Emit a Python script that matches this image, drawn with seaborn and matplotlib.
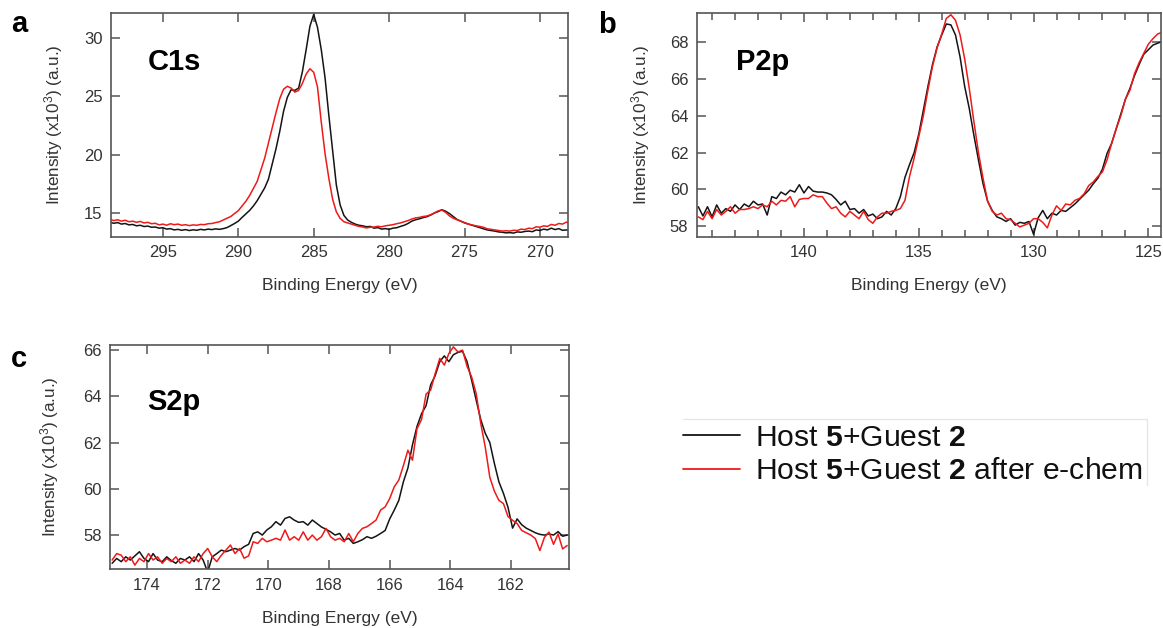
import numpy as np
import pandas as pd
import seaborn as sns
import matplotlib.pyplot as plt
from matplotlib.ticker import MultipleLocator
from matplotlib.lines import Line2D

# C1s spectra, 0.25 eV steps starting at 298.5 eV going down
c1s_start, c1s_step = 298.5, 0.25
c1s_host = [14.20, 14.12, 14.18, 14.05, 14.10, 13.98, 14.02, 13.90, 13.95, 13.84,
            13.88, 13.78, 13.80, 13.70, 13.74, 13.62, 13.66, 13.55, 13.60, 13.52,
            13.58, 13.50, 13.56, 13.52, 13.60, 13.55, 13.62, 13.58, 13.64, 13.60,
            13.66, 13.75, 13.92, 14.10, 14.30, 14.62, 14.92, 15.22, 15.60, 16.05,
            16.60, 17.15, 17.90, 19.20, 20.50, 22.00, 23.70, 24.90, 25.55, 25.50,
            25.70, 27.10, 29.00, 31.00, 32.00, 30.90, 29.00, 26.60, 23.40, 20.40,
            17.40, 15.70, 14.80, 14.40, 14.20, 14.05, 13.95, 13.90, 13.82, 13.85,
            13.70, 13.75, 13.62, 13.66, 13.60, 13.70, 13.74, 13.85, 13.95, 14.10,
            14.30, 14.42, 14.50, 14.60, 14.68, 14.82, 15.00, 15.12, 15.28, 15.15,
            14.95, 14.70, 14.45, 14.30, 14.15, 14.05, 13.95, 13.85, 13.75, 13.65,
            13.55, 13.50, 13.45, 13.38, 13.35, 13.30, 13.32, 13.28, 13.38, 13.35,
            13.42, 13.45, 13.40, 13.55, 13.50, 13.62, 13.55, 13.70, 13.58, 13.66,
            13.52, 13.55, 13.50]
c1s_echem = [14.45, 14.35, 14.42, 14.30, 14.38, 14.25, 14.30, 14.20, 14.28, 14.15,
             14.20, 14.08, 14.12, 13.98, 14.05, 13.95, 14.08, 14.00, 14.05, 13.95,
             14.00, 13.92, 13.98, 13.95, 14.02, 14.00, 14.08, 14.10, 14.18, 14.25,
             14.40, 14.55, 14.70, 14.95, 15.20, 15.60, 16.00, 16.50, 17.10, 17.70,
             18.70, 19.70, 21.00, 22.30, 23.60, 24.80, 25.60, 25.85, 25.70, 25.35,
             25.50, 26.10, 26.90, 27.35, 27.05, 25.80, 22.80, 20.10, 18.00, 16.20,
             15.10, 14.55, 14.25, 14.15, 14.05, 13.95, 13.85, 13.80, 13.72, 13.78,
             13.80, 13.86, 13.82, 13.90, 13.95, 14.00, 14.08, 14.15, 14.25, 14.35,
             14.48, 14.58, 14.62, 14.70, 14.74, 14.85, 15.00, 15.18, 15.25, 15.05,
             14.75, 14.55, 14.42, 14.30, 14.18, 14.05, 13.98, 13.90, 13.85, 13.78,
             13.65, 13.60, 13.55, 13.50, 13.45, 13.48, 13.45, 13.52, 13.50, 13.62,
             13.58, 13.70, 13.66, 13.82, 13.78, 13.90, 13.85, 14.02, 13.95, 14.10,
             14.05, 14.22, 14.10]

# P2p spectra, 0.2 eV steps starting at 144.6 eV
p2p_start, p2p_step = 144.6, 0.2
p2p_host = [59.05, 58.55, 59.05, 58.50, 59.15, 58.70, 58.95, 58.80, 59.15, 58.90,
            59.20, 59.05, 59.35, 59.15, 59.20, 58.60, 59.60, 59.50, 59.85, 59.70,
            59.95, 59.85, 60.25, 59.80, 60.15, 59.90, 59.85, 59.85, 59.80, 59.70,
            59.45, 59.15, 59.35, 58.90, 58.95, 58.70, 58.90, 58.55, 58.65, 58.40,
            58.50, 58.80, 58.60, 58.95, 59.60, 60.65, 61.35, 62.00, 63.00, 64.30,
            65.60, 66.80, 67.75, 68.40, 69.00, 68.95, 68.40, 67.20, 65.60, 64.40,
            62.95, 61.60, 60.30, 59.35, 58.85, 58.50, 58.40, 58.25, 58.40, 58.05,
            58.20, 58.15, 58.25, 57.55, 58.45, 58.85, 58.40, 58.70, 58.60, 58.85,
            58.80, 59.00, 59.20, 59.45, 59.70, 59.95, 60.30, 60.60, 61.10, 61.95,
            62.50, 63.30, 64.10, 64.90, 65.50, 66.20, 66.80, 67.35, 67.60, 67.85,
            67.95, 68.05]
p2p_echem = [58.50, 58.35, 58.80, 58.40, 58.90, 58.60, 58.80, 59.05, 58.70, 58.90,
             58.90, 58.95, 59.05, 58.95, 59.15, 59.05, 59.35, 59.15, 59.40, 59.35,
             59.60, 59.05, 59.45, 59.50, 59.50, 59.70, 59.60, 59.60, 59.25, 58.95,
             59.05, 58.70, 58.50, 58.80, 58.60, 58.40, 58.80, 58.35, 58.15, 58.50,
             58.70, 58.70, 58.80, 58.85, 58.95, 59.40, 60.70, 61.70, 62.85, 64.00,
             65.40, 66.70, 67.70, 68.45, 69.30, 69.50, 69.20, 68.40, 67.10, 65.50,
             63.70, 62.00, 60.60, 59.35, 58.80, 58.60, 58.70, 58.40, 58.35, 58.15,
             57.95, 58.05, 58.15, 58.40, 58.40, 58.20, 57.90, 58.60, 59.10, 58.85,
             59.20, 59.15, 59.40, 59.50, 59.75, 60.20, 60.40, 60.70, 60.95, 61.60,
             62.50, 63.30, 64.00, 64.90, 65.40, 66.30, 66.90, 67.40, 67.90, 68.20,
             68.45, 68.55]

# S2p spectra, 0.15 eV steps starting at 175.15 eV
s2p_start, s2p_step = 175.15, 0.15
s2p_host = [56.78, 56.99, 56.85, 57.06, 56.92, 57.10, 57.28, 56.99, 56.85, 57.20,
            56.92, 56.85, 57.06, 56.90, 56.78, 56.99, 56.92, 57.06, 56.85, 57.20,
            56.92, 56.40, 57.06, 57.20, 57.35, 57.28, 57.35, 57.42, 57.35, 57.50,
            57.60, 58.07, 58.14, 58.00, 58.22, 58.36, 58.58, 58.43, 58.72, 58.79,
            58.65, 58.55, 58.58, 58.43, 58.65, 58.50, 58.35, 58.25, 58.14, 58.00,
            58.07, 57.78, 57.86, 57.64, 57.71, 57.80, 57.93, 57.86, 57.95, 58.07,
            58.20, 58.70, 59.08, 59.50, 60.30, 60.90, 61.90, 62.70, 63.25, 63.60,
            64.50, 64.90, 65.50, 65.75, 65.50, 65.80, 65.90, 65.95, 65.50, 64.70,
            63.84, 63.00, 62.40, 62.00, 61.10, 60.30, 59.80, 59.20, 58.30, 58.70,
            58.45, 58.30, 58.20, 58.10, 58.03, 58.00, 58.05, 58.00, 58.15, 57.95,
            58.00]
s2p_echem = [56.92, 57.20, 57.13, 56.85, 57.06, 56.70, 56.99, 56.85, 57.20, 56.92,
             57.06, 56.78, 56.99, 56.85, 57.06, 56.78, 56.92, 56.78, 57.06, 56.85,
             57.20, 57.42, 57.06, 56.85, 57.13, 57.35, 57.57, 57.20, 57.42, 57.00,
             57.10, 57.71, 57.64, 57.86, 57.71, 57.78, 57.86, 57.78, 58.22, 57.78,
             57.93, 57.78, 58.14, 57.78, 58.00, 57.78, 57.93, 58.29, 57.93, 57.78,
             57.86, 57.71, 58.07, 57.71, 58.07, 58.29, 58.36, 58.50, 58.65, 59.08,
             59.22, 59.58, 60.09, 60.38, 61.00, 61.67, 61.24, 62.60, 63.00, 64.10,
             64.27, 64.99, 65.64, 65.35, 65.85, 66.14, 65.92, 66.00, 65.30, 64.84,
             64.12, 62.84, 61.80, 60.50, 59.90, 59.50, 59.36, 58.80, 58.64, 58.50,
             58.20, 58.10, 58.00, 57.85, 57.33, 57.90, 58.13, 57.60, 58.05, 57.40,
             57.55]

labels = ["Host $\\mathbf{5}$+Guest $\\mathbf{2}$",
          "Host $\\mathbf{5}$+Guest $\\mathbf{2}$ after e-chem"]
panel_titles = ["C1s", "P2p", "S2p"]
panel_letters = ["a", "b", "c"]

sns.set_theme(style="ticks")
plt.rcParams["font.family"] = ["Liberation Sans", "DejaVu Sans"]
plt.rcParams["mathtext.fontset"] = "custom"
plt.rcParams["mathtext.rm"] = "Liberation Sans"
plt.rcParams["mathtext.bf"] = "Liberation Sans:bold"
plt.rcParams["mathtext.it"] = "Liberation Sans:italic"

black = "#141414"
red = "#ee1a1a"
grey = "#555555"
txt = "#333333"

W, H = 1163, 628
fig = plt.figure(figsize=(W / 100, H / 100), dpi=100)


def px_axes(l, t, r, b):
    return fig.add_axes([l / W, 1 - b / H, (r - l) / W, (b - t) / H])


def make_df(start, step, host, echem):
    assert len(host) == len(echem)
    be = np.round(start - step * np.arange(len(host)), 3)
    return pd.DataFrame({"be": np.concatenate([be, be]),
                         "counts": np.concatenate([host, echem]),
                         "sample": [labels[0]] * len(be) + [labels[1]] * len(be)})


panels = [
    dict(rect=(111, 13.3, 568.3, 236.7), df=make_df(c1s_start, c1s_step, c1s_host, c1s_echem),
         xlim=(298.44, 268.12), ylim=(12.97, 32.1), xmaj=5, ymaj=5, xmin=None,
         title_xy=(148, 70), letter_xy=(11, 32), ylab_x=-0.1),
    dict(rect=(696.7, 13.3, 1161, 236.7), df=make_df(p2p_start, p2p_step, p2p_host, p2p_echem),
         xlim=(144.67, 124.45), ylim=(57.42, 69.58), xmaj=5, ymaj=2, xmin=1,
         title_xy=(736, 70), letter_xy=(598, 33), ylab_x=-0.097),
    dict(rect=(110.3, 345, 569.3, 569.3), df=make_df(s2p_start, s2p_step, s2p_host, s2p_echem),
         xlim=(175.21, 160.08), ylim=(56.52, 66.22), xmaj=2, ymaj=2, xmin=None,
         title_xy=(147, 410), letter_xy=(11, 367), ylab_x=-0.108),
]

for i, p in enumerate(panels):
    ax = px_axes(*p["rect"])
    sns.lineplot(data=p["df"], x="be", y="counts", hue="sample", estimator=None,
                 palette=[black, red], linewidth=1.1, legend=False, ax=ax)
    ax.set_xlim(*p["xlim"])
    ax.set_ylim(*p["ylim"])
    ax.xaxis.set_major_locator(MultipleLocator(p["xmaj"]))
    ax.yaxis.set_major_locator(MultipleLocator(p["ymaj"]))
    if p["xmin"]:
        ax.xaxis.set_minor_locator(MultipleLocator(p["xmin"]))
    for s in ax.spines.values():
        s.set_visible(True)
        s.set_color(grey)
        s.set_linewidth(1.2)
    ax.tick_params(which="both", direction="in", top=True, right=True, color=grey,
                   width=1.1, labelsize=12, labelcolor=txt, pad=6)
    ax.tick_params(which="major", length=6.5)
    ax.tick_params(which="minor", length=5)
    ax.set_xlabel("Binding Energy (eV)", fontsize=12.5, color=txt)
    ax.set_ylabel("Intensity (x10$^{3}$) (a.u.)", fontsize=12.3, color=txt)
    ax.xaxis.set_label_coords(0.5, -0.185)
    ax.yaxis.set_label_coords(p["ylab_x"], 0.5)
    tx, ty = p["title_xy"]
    fig.text(tx / W, 1 - ty / H, panel_titles[i], fontsize=21, fontweight="bold",
             color="black", ha="left", va="baseline")
    lx, ly = p["letter_xy"]
    fig.text(lx / W, 1 - ly / H, panel_letters[i], fontsize=21, fontweight="bold",
             color="black", ha="left", va="baseline")

handles = [Line2D([], [], color=black, lw=1.3), Line2D([], [], color=red, lw=1.3)]
fig.legend(handles, labels, loc="upper left", bbox_to_anchor=(683 / W, 1 - 424 / H),
           frameon=False, fontsize=21.7, handlelength=1.9, handletextpad=0.5,
           labelspacing=0.17, borderpad=0, borderaxespad=0, labelcolor="#111111")
# faint frame edges of the legend box (top and right only)
fig.add_artist(Line2D([683 / W, 1147 / W], [1 - 419 / H, 1 - 419 / H], color="#e6e6e6", lw=1))
fig.add_artist(Line2D([1147 / W, 1147 / W], [1 - 419 / H, 1 - 485 / H], color="#e6e6e6", lw=1))

plt.savefig("out.png", dpi=100, facecolor="white")
